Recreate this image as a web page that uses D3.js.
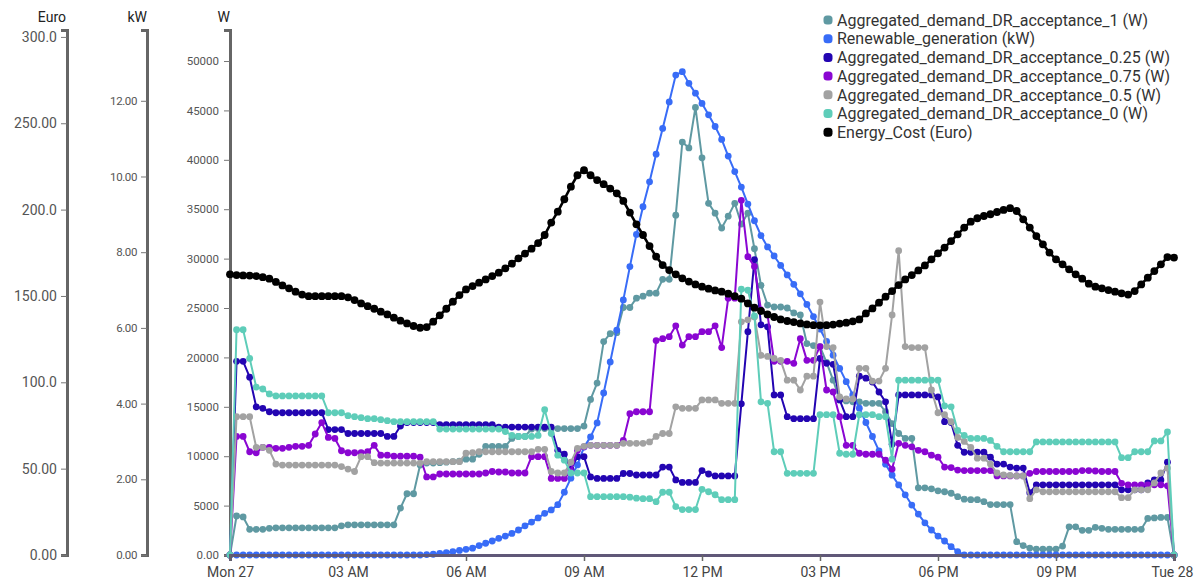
<!DOCTYPE html>
<html>
<head>
<meta charset="utf-8">
<script src="https://cdn.jsdelivr.net/npm/d3@7"></script>
<style>
  body { margin: 0; background: #fff; }
  text { font-family: Roboto, "Open Sans", sans-serif; }
</style>
</head>
<body>
<svg id="chart" width="1194" height="584"></svg>
<script>
// One day of 10-minute samples, Mon 27 00:00 -> Tue 28 00:00 (145 points)
const startTime = new Date(2020, 0, 27, 0, 0);
const stepMinutes = 10;

// Aggregated demand, DR acceptance 1 (W)
const demandAcc1 = [
  0, 3950, 3850, 2600, 2600, 2600, 2700, 2750, 2750, 2750, 2750, 2750,
  2750, 2750, 2750, 2750, 2750, 2950, 3050, 3050, 3050, 3050, 3050, 3050,
  3050, 3050, 4750, 6200, 6200, 9100, 9300, 9300, 9350, 9400, 9450, 9500,
  9700, 9700, 10200, 11000, 11000, 11000, 11000, 11800, 12000, 12000, 12750, 12800,
  12800, 12800, 12800, 12800, 12800, 12800, 13050, 15750, 17400, 21600, 22400, 22500,
  25050, 25050, 26000, 26200, 26500, 26500, 27900, 27900, 34400, 41800, 41200, 45300,
  40200, 35600, 34600, 33100, 34300, 35600, 33500, 34600, 31000, 27300, 25300, 25100,
  25100, 25000, 24500, 24300, 21400, 21200, 21100, 19500, 17700, 15700, 15600, 15500,
  15500, 15350, 15350, 15350, 14500, 13300, 12300, 11800, 11800, 6800, 6800, 6700,
  6500, 6400, 6250, 5900, 5650, 5600, 5600, 5400, 5100, 5100, 5100, 5100,
  1350, 950, 700, 600, 600, 600, 600, 900, 2850, 2850, 2500, 2500,
  2800, 2700, 2600, 2600, 2600, 2600, 2600, 2600, 3700, 3750, 3800, 3800,
  0
];

// Renewable generation (kW)
const renewableKW = [
  0, 0, 0, 0, 0, 0, 0, 0, 0, 0, 0, 0,
  0, 0, 0, 0, 0, 0, 0, 0, 0, 0, 0, 0,
  0, 0, 0, 0, 0, 0, 0.01, 0.02, 0.04, 0.06, 0.09, 0.12,
  0.15, 0.18, 0.25, 0.31, 0.37, 0.44, 0.50, 0.57, 0.66, 0.77, 0.87, 0.98,
  1.10, 1.19, 1.33, 1.66, 2.03, 2.38, 2.85, 3.12, 3.49, 4.28, 5.10, 5.94,
  6.74, 7.62, 8.47, 9.20, 9.86, 10.59, 11.27, 11.97, 12.68, 12.77, 12.46, 12.20,
  11.93, 11.63, 11.32, 10.98, 10.54, 10.13, 9.72, 9.27, 8.83, 8.44, 8.14, 7.90,
  7.65, 7.40, 7.15, 6.90, 6.62, 6.30, 5.97, 5.64, 5.28, 4.93, 4.58, 4.23,
  3.88, 3.50, 3.13, 2.75, 2.40, 2.11, 1.85, 1.59, 1.32, 1.08, 0.85, 0.66,
  0.50, 0.37, 0.22, 0.09, 0, 0, 0, 0, 0, 0, 0, 0,
  0, 0, 0, 0, 0, 0, 0, 0, 0, 0, 0, 0,
  0, 0, 0, 0, 0, 0, 0, 0, 0, 0, 0, 0,
  0
];

// Aggregated demand, DR acceptance 0.25 (W)
const demandAcc025 = [
  0, 19600, 19600, 18000, 15000, 14850, 14500, 14400, 14400, 14400, 14400, 14400,
  14400, 14400, 14400, 12700, 12700, 12700, 12300, 12300, 12300, 12300, 12300, 12300,
  12000, 12000, 13050, 13400, 13400, 13400, 13400, 13400, 13200, 13200, 13200, 13200,
  13200, 13200, 13200, 13200, 13200, 12950, 12950, 12950, 12950, 12950, 12950, 12950,
  12950, 12950, 10600, 10200, 8700, 9950, 9950, 7900, 7750, 7750, 7750, 7750,
  8250, 8250, 8100, 8100, 8100, 8100, 8900, 8900, 7600, 7350, 7350, 7350,
  8550, 8200, 8000, 8000, 8000, 8000, 15300, 22600, 29900, 23300, 23100, 16200,
  16200, 14000, 13800, 13800, 13800, 13800, 19900, 19400, 19300, 15700, 14000, 14000,
  18100, 17900, 17500, 16500, 15500, 11200, 16200, 16200, 16200, 16200, 16200, 16200,
  16000, 13500, 13400, 11100, 10400, 10400, 10400, 10400, 9900, 9200, 9200, 8900,
  8800, 8800, 6300, 7100, 7100, 7100, 7100, 7100, 7100, 7100, 7100, 7100,
  7100, 7100, 7100, 7100, 6600, 6600, 6600, 6600, 7300, 7600, 7600, 9400,
  0
];

// Aggregated demand, DR acceptance 0.75 (W)
const demandAcc075 = [
  0, 12000, 12000, 10450, 10350, 10900, 10900, 10800, 10800, 10900, 11000, 11000,
  11100, 12250, 13400, 11900, 11800, 10550, 10350, 10350, 10350, 10450, 11100, 10100,
  10100, 10000, 10000, 10000, 10000, 9900, 7900, 7900, 8200, 8200, 8200, 8200,
  8200, 8200, 8200, 8300, 8450, 8400, 8400, 8300, 8300, 8300, 9950, 9950,
  9950, 7750, 7750, 7750, 8500, 10600, 10950, 11100, 11100, 11100, 11100, 11100,
  11600, 14300, 14500, 14500, 14500, 21700, 21900, 22100, 23200, 21250, 22100, 22100,
  22600, 22600, 23200, 21000, 26000, 26000, 35900, 30200, 29200, 24800, 24300, 19600,
  19600, 19600, 19400, 21900, 19700, 19700, 21100, 16700, 16500, 14000, 11100, 11100,
  10300, 10200, 10200, 10200, 9600, 8700, 11300, 11100, 10950, 10600, 10450, 10100,
  9900, 8900, 8850, 8600, 8550, 8550, 8550, 8550, 8550, 8000, 8000, 8000,
  8000, 8000, 8270, 8450, 8450, 8450, 8450, 8450, 8450, 8450, 8550, 8550,
  8500, 8450, 8450, 8450, 7250, 7100, 7100, 7100, 7100, 7100, 7100, 7000,
  0
];

// Aggregated demand, DR acceptance 0.5 (W)
const demandAcc05 = [
  0, 14000, 14000, 14000, 10900, 10900, 10600, 9200, 9100, 9100, 9100, 9100,
  9100, 9100, 9100, 9100, 9100, 8950, 8700, 8450, 9950, 9950, 9350, 9300,
  9300, 9300, 9300, 9300, 9300, 9300, 9450, 9450, 9450, 9450, 9450, 9450,
  10300, 10350, 10450, 10450, 10450, 10450, 10450, 10450, 10450, 10450, 10450, 10700,
  10700, 8450, 8300, 8300, 9400, 10800, 11000, 11100, 11100, 11100, 11100, 11100,
  11300, 11300, 11300, 11300, 11450, 12000, 12300, 12300, 15000, 14850, 14850, 14850,
  15700, 15700, 15700, 15350, 15350, 15350, 23600, 23800, 24100, 20200, 20100, 19900,
  19700, 17700, 17700, 16700, 18100, 18100, 25600, 21100, 21000, 16000, 15800, 15800,
  18900, 18900, 17600, 17600, 18900, 24300, 30800, 21100, 21000, 21000, 21000, 16700,
  14400, 14200, 13500, 11900, 11500, 10900, 9800, 9800, 9200, 8300, 8100, 8050,
  8000, 8000, 5700, 6600, 6400, 6400, 6400, 6400, 6400, 6400, 6400, 6400,
  6400, 6400, 6400, 6400, 5800, 5800, 6600, 6600, 6600, 7300, 8300, 8800,
  0
];

// Aggregated demand, DR acceptance 0 (W)
const demandAcc0 = [
  0, 22800, 22800, 19900, 17000, 16800, 16300, 16100, 16100, 16100, 16100, 16100,
  16100, 16100, 16100, 14400, 14400, 14400, 14100, 14000, 13900, 13800, 13800, 13700,
  13600, 13500, 13500, 13500, 13500, 13500, 13500, 13500, 12750, 12750, 12750, 12750,
  12750, 12750, 12750, 12750, 12750, 12750, 12500, 12100, 12000, 12000, 12000, 12100,
  14700, 12300, 10100, 9600, 8300, 8300, 8300, 5900, 5900, 5900, 5900, 5900,
  5900, 5850, 5750, 5700, 5700, 5400, 6350, 6350, 4900, 4600, 4600, 4600,
  6650, 6400, 6100, 5600, 5600, 5600, 26900, 26800, 24200, 15500, 15350, 10450,
  10450, 8270, 8270, 8270, 8270, 8270, 14200, 14200, 14200, 10300, 10200, 10200,
  14200, 14200, 14200, 14000, 14000, 9700, 17700, 17700, 17700, 17700, 17700, 17700,
  17700, 15100, 15000, 12600, 12100, 11800, 11800, 11800, 11600, 11000, 10450, 10450,
  10450, 10450, 10450, 11450, 11450, 11450, 11450, 11450, 11450, 11450, 11450, 11450,
  11450, 11450, 11450, 11450, 9850, 9850, 10450, 10450, 10450, 11550, 11550, 12450,
  0
];

// Energy cost (Euro)
const energyCostEuro = [
  162.5, 162.1, 161.9, 161.8, 161.5, 160.9, 160.0, 158.1, 156.1, 154.4, 152.5, 150.8,
  149.9, 149.9, 149.9, 149.9, 149.9, 149.9, 149.2, 147.6, 145.7, 144.1, 142.6, 140.9,
  139.3, 137.4, 135.7, 134.1, 132.6, 131.6, 132.0, 135.1, 138.8, 142.6, 146.7, 150.5,
  153.8, 155.7, 157.7, 159.6, 161.5, 163.5, 166.0, 168.7, 171.8, 174.5, 177.4, 180.6,
  185.3, 192.5, 198.8, 206.0, 213.3, 219.9, 222.8, 219.9, 217.1, 214.7, 212.2, 209.4,
  205.0, 198.3, 191.5, 185.3, 178.9, 172.8, 167.9, 165.0, 162.5, 160.2, 158.3, 156.7,
  155.4, 154.2, 153.2, 152.5, 151.3, 149.9, 148.4, 145.7, 143.2, 141.3, 139.3, 137.8,
  136.4, 135.5, 134.9, 134.1, 133.5, 133.1, 133.0, 133.1, 133.4, 134.0, 134.5, 135.3,
  136.4, 139.9, 142.8, 146.1, 149.6, 152.8, 156.3, 159.6, 162.1, 164.8, 167.7, 171.2,
  174.7, 178.0, 181.8, 185.7, 189.6, 193.0, 195.0, 196.3, 197.3, 198.6, 199.8, 200.8,
  199.2, 194.4, 189.6, 184.7, 179.9, 175.1, 171.2, 168.3, 165.4, 162.5, 160.0, 157.1,
  155.4, 154.4, 153.4, 152.5, 151.5, 150.8, 152.8, 156.7, 160.6, 164.4, 168.3, 172.5,
  172.2
];

// Axis ticks and their labels
const euroTicks = [0, 50, 100, 150, 200, 250, 300];
const euroTickLabels = ["0.00", "50.00", "100.0", "150.00", "200.0", "250.00", "300.0"];
const kwTicks = [0, 2, 4, 6, 8, 10, 12];
const wattTicks = [0, 5000, 10000, 15000, 20000, 25000, 30000, 35000, 40000, 45000, 50000];
const wattTickLabels = ["0.00", "5000", "10000", "15000", "20000", "25000", "30000", "35000", "40000", "45000", "50000"];

const svg = d3.select("#chart");
const plotTop = 30, plotBottom = 555, plotLeft = 230, plotRight = 1174;

const times = d3.range(demandAcc1.length).map(i => d3.timeMinute.offset(startTime, i * stepMinutes));

const x = d3.scaleTime().domain([times[0], times[times.length - 1]]).range([plotLeft, plotRight]);
const yW = d3.scaleLinear().domain([0, 53140]).range([plotBottom, plotTop]);
const yKW = d3.scaleLinear().domain([0, 13.87]).range([plotBottom, plotTop]);
const yEuro = d3.scaleLinear().domain([0, 304]).range([plotBottom, plotTop]);

const series = [
  { name: "Aggregated_demand_DR_acceptance_1 (W)", values: demandAcc1, y: yW, color: "#5f99a2" },
  { name: "Renewable_generation (kW)", values: renewableKW, y: yKW, color: "#386cf7" },
  { name: "Aggregated_demand_DR_acceptance_0.25 (W)", values: demandAcc025, y: yW, color: "#2305b2" },
  { name: "Aggregated_demand_DR_acceptance_0.75 (W)", values: demandAcc075, y: yW, color: "#8a06d2" },
  { name: "Aggregated_demand_DR_acceptance_0.5 (W)", values: demandAcc05, y: yW, color: "#a2a2a2" },
  { name: "Aggregated_demand_DR_acceptance_0 (W)", values: demandAcc0, y: yW, color: "#5ecdb9" },
  { name: "Energy_Cost (Euro)", values: energyCostEuro, y: yEuro, color: "#000000", width: 2.6, r: 3.9 }
];

// --- vertical axes ---
function styleAxis(g, labelSize, labelColor) {
  g.select(".domain").attr("stroke", "#666").attr("stroke-width", 3);
  g.selectAll(".tick line").attr("stroke", "#777").attr("stroke-width", 1);
  g.selectAll(".tick text").attr("font-size", labelSize).attr("fill", labelColor)
    .attr("font-family", "Roboto, sans-serif");
}

const euroAxis = svg.append("g").attr("transform", "translate(67,0)")
  .call(d3.axisLeft(yEuro).tickValues(euroTicks)
    .tickFormat((d, i) => euroTickLabels[i]).tickSizeInner(6).tickSizeOuter(6).tickPadding(4));
styleAxis(euroAxis, 14, "#555");

const kwAxis = svg.append("g").attr("transform", "translate(147,0)")
  .call(d3.axisLeft(yKW).tickValues(kwTicks).tickFormat(d3.format(".2f"))
    .tickSizeInner(6).tickSizeOuter(6).tickPadding(4));
styleAxis(kwAxis, 11.5, "#555");
kwAxis.selectAll(".tick text").attr("letter-spacing", "-0.4");

const wAxis = svg.append("g").attr("transform", `translate(${plotLeft},0)`)
  .call(d3.axisLeft(yW).tickValues(wattTicks).tickFormat((d, i) => wattTickLabels[i])
    .tickSizeInner(6).tickSizeOuter(6).tickPadding(5));
styleAxis(wAxis, 11.5, "#555");

// axis unit titles
[["Euro", 66], ["kW", 147], ["W", 230]].forEach(([t, xx]) => {
  svg.append("text").attr("x", xx).attr("y", 22).attr("text-anchor", "end")
    .attr("font-size", 14).attr("fill", "#222").text(t);
});

// --- series ---
series.forEach(s => {
  const g = svg.append("g");
  const line = d3.line().x((d, i) => x(times[i])).y(d => s.y(d));
  g.append("path").datum(s.values)
    .attr("fill", "none").attr("stroke", s.color)
    .attr("stroke-width", s.width || 2).attr("stroke-linejoin", "round")
    .attr("d", line);
  g.selectAll("circle").data(s.values).join("circle")
    .attr("cx", (d, i) => x(times[i])).attr("cy", d => s.y(d))
    .attr("r", s.r || 3.4).attr("fill", s.color);
});

// --- time axis ---
const xAxis = svg.append("g").attr("transform", `translate(0,${plotBottom})`)
  .call(d3.axisBottom(x).ticks(d3.timeHour.every(3)).tickSizeInner(6).tickSizeOuter(6).tickPadding(6));
xAxis.select(".domain").attr("stroke", "#605878").attr("stroke-width", 3);
xAxis.selectAll(".tick line").attr("stroke", "#666").attr("stroke-width", 1.5);
xAxis.selectAll(".tick text").attr("font-size", 14).attr("fill", "#444")
  .attr("font-family", "Roboto, sans-serif");
// the last day label sits at the right edge: keep it inside the page
xAxis.selectAll(".tick text").filter((d, i, nodes) => i === nodes.length - 1)
  .attr("text-anchor", "end").attr("dx", 19);

// --- legend ---
const legend = svg.append("g").attr("transform", "translate(828,20)");
series.forEach((s, k) => {
  const row = legend.append("g").attr("transform", `translate(0,${k * 18.7})`);
  row.append("rect").attr("x", -4.5).attr("y", -4.5).attr("width", 9).attr("height", 9)
    .attr("rx", 3.5).attr("fill", s.color);
  row.append("text").attr("x", 9).attr("y", 0).attr("dy", "0.36em")
    .attr("font-size", 16).attr("fill", "#333").text(s.name);
});
</script>
</body>
</html>
